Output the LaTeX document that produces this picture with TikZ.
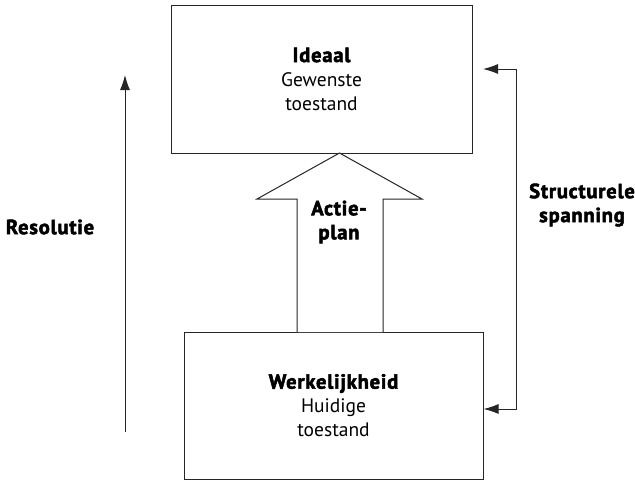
\documentclass[tikz,border=0pt]{standalone}
\usepackage{fontspec}
\setmainfont{PT Sans}[BoldFeatures={FakeBold=2.5,LetterSpace=4}]
\usetikzlibrary{arrows.meta}
\begin{document}
\begin{tikzpicture}[x=1pt,y=-1pt,
  boxstyle/.style={draw=black!85, line width=1pt, align=center, font=\fontsize{19.5}{24}\selectfont, inner sep=0pt},
  lbl/.style={align=center, font=\bfseries\fontsize{20.5}{24}\selectfont, inner sep=0pt},
  ln/.style={draw=black!85, line width=1pt},
  tip/.style={-{Latex[length=15pt,width=10pt]}}]
\useasboundingbox (0,0) rectangle (635,480);
\node[boxstyle, minimum width=301pt, minimum height=148pt] (ideal) at (321.5,79)
  {{\bfseries\fontsize{20.5}{24}\selectfont Ideaal}\\Gewenste\\toestand};
\node[boxstyle, minimum width=299pt, minimum height=147pt] (real) at (333.5,405.5)
  {{\bfseries\fontsize{20.5}{24}\selectfont Werkelijkheid}\\Huidige\\toestand};
% block arrow
\coordinate (sl) at (297,332);
\coordinate (sr) at (383,332);
\coordinate (tipc) at (339.5,153);
\draw[ln, fill=white, line join=miter] (sl) -- (297,199) -- (257,199) -- (tipc) -- (422,199) -- (383,199) -- (sr);
\node[lbl] (actie) at (339,222) {Actie-\\plan};
% resolutie
\coordinate (r0) at (125,432);
\coordinate (r1) at (125,75);
\draw[ln, tip] (r0) -- (r1);
\node[lbl] (res) at (50,227) {Resolutie};
% structurele spanning
\coordinate (s1) at (483,69);
\coordinate (s2) at (516,69);
\coordinate (s3) at (516,409);
\draw[ln, {Latex[length=15pt,width=10pt]}-{Latex[length=15pt,width=10pt]}] (s1) -- (s2) -- (s3) -- (real.east |- s3);
\node[lbl] (struct) at (582,205) {Structurele\\spanning};
\end{tikzpicture}
\end{document}
